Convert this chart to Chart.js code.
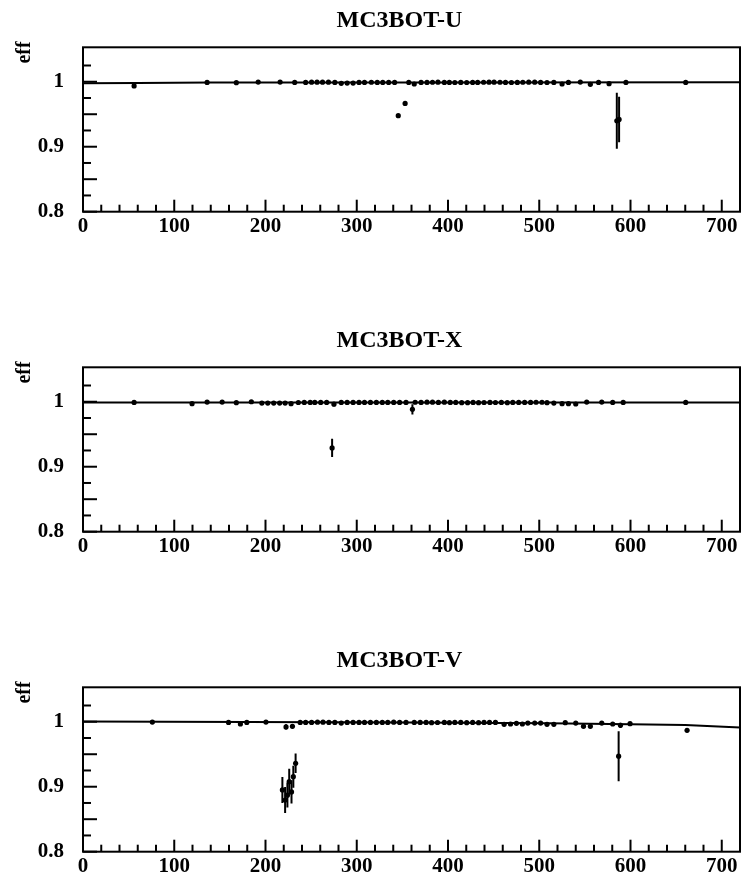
<!DOCTYPE html>
<html>
<head>
<meta charset="utf-8">
<script src="https://cdn.jsdelivr.net/npm/chart.js@4/dist/chart.umd.min.js"></script>
<style>
  html, body { margin: 0; padding: 0; background: #fff; }
  .panel { position: absolute; left: 0; width: 744px; height: 237px; }
</style>
</head>
<body>
<div class="panel" style="top:0px"><canvas id="cU" width="744" height="237"></canvas></div>
<div class="panel" style="top:320px"><canvas id="cX" width="744" height="237"></canvas></div>
<div class="panel" style="top:640px"><canvas id="cV" width="744" height="237"></canvas></div>
<script>
// Axis ticks and labels
const xTickValues = [0, 100, 200, 300, 400, 500, 600, 700];
const xTickLabels = ['0', '100', '200', '300', '400', '500', '600', '700'];
const yTickValues = [0.8, 0.9, 1.0];
const yTickLabels = ['0.8', '0.9', '1'];
const yAxisTitle = 'eff';

// MC3BOT-U: efficiency per position
const uPos = [56, 136, 168, 192, 216, 232, 244, 250.5, 256.5, 262.5,
  269, 276, 283, 289.5, 296, 302.5, 308.5, 316, 322.5, 328.5,
  335, 341.5, 345.5, 353, 357, 363, 370.5, 377, 383, 389,
  396, 401.5, 407.5, 414, 420.5, 427, 432.5, 439, 445, 450.5,
  457, 463, 469.5, 476, 482, 488.5, 495, 501.5, 508.5, 516,
  525, 532, 545, 556, 565, 576.5, 585, 587.5, 595, 660.5];
const uEff = [0.9935, 0.999, 0.9985, 0.9995, 0.9995, 0.999, 0.999, 0.9993, 0.9993, 0.9993,
  0.9993, 0.999, 0.9975, 0.998, 0.998, 0.999, 0.999, 0.9992, 0.999, 0.999,
  0.999, 0.999, 0.9477, 0.9667, 0.999, 0.9965, 0.999, 0.999, 0.9992, 0.9993,
  0.999, 0.999, 0.9988, 0.999, 0.9988, 0.999, 0.999, 0.9992, 0.9993, 0.9993,
  0.9992, 0.999, 0.9988, 0.999, 0.9992, 0.9993, 0.9993, 0.999, 0.9988, 0.999,
  0.9965, 0.999, 0.9995, 0.996, 0.999, 0.997, 0.940, 0.942, 0.999, 0.999];
const uErr = [0.003, 0, 0, 0, 0, 0, 0, 0, 0, 0,
  0, 0, 0, 0, 0, 0, 0, 0, 0, 0,
  0, 0, 0.002, 0.003, 0, 0, 0, 0, 0, 0,
  0, 0, 0, 0, 0, 0, 0, 0, 0, 0,
  0, 0, 0, 0, 0, 0, 0, 0, 0, 0,
  0, 0, 0, 0.0015, 0, 0, 0.043, 0.035, 0, 0];
const uFitX = [0, 60, 140, 400, 720];
const uFitY = [0.9975, 0.998, 0.999, 0.999, 0.9994];

// MC3BOT-X: efficiency per position
const xPos = [56, 119.5, 136, 152.5, 168, 184.5, 196, 202.5, 209, 215.5,
  221.5, 228, 236, 242.5, 249, 254, 260.5, 267, 273, 275,
  283, 289.5, 296, 302.5, 308.5, 315, 321.5, 328, 334, 340.5,
  347, 354, 361, 364, 370.5, 377, 383, 389.5, 396, 402.5,
  408.5, 415, 421.5, 427.5, 433.5, 439.5, 446, 452, 458.5, 465,
  471, 477.5, 484, 490.5, 496.5, 503, 508.5, 516, 525, 532,
  540, 552, 568.5, 580.5, 592, 660.5];
const xEff = [0.999, 0.997, 0.9995, 0.9995, 0.9985, 1.0, 0.998, 0.998, 0.998, 0.998,
  0.998, 0.997, 0.9988, 0.999, 0.999, 0.999, 0.999, 0.999, 0.929, 0.9962,
  0.999, 0.999, 0.999, 0.999, 0.999, 0.999, 0.999, 0.999, 0.999, 0.999,
  0.999, 0.999, 0.9883, 0.9992, 0.999, 0.9993, 0.9993, 0.999, 0.9993, 0.999,
  0.999, 0.9985, 0.9985, 0.999, 0.9985, 0.9988, 0.999, 0.9988, 0.999, 0.9985,
  0.999, 0.999, 0.999, 0.999, 0.9992, 0.9992, 0.9985, 0.998, 0.997, 0.997,
  0.9965, 0.9995, 0.9995, 0.999, 0.999, 0.999];
const xErr = [0, 0, 0, 0, 0, 0, 0, 0, 0, 0,
  0, 0, 0, 0, 0, 0, 0, 0, 0.014, 0.003,
  0, 0, 0, 0, 0, 0, 0, 0, 0, 0,
  0, 0, 0.008, 0, 0, 0, 0, 0, 0, 0,
  0, 0, 0, 0, 0, 0, 0, 0, 0, 0,
  0, 0, 0, 0, 0, 0, 0, 0, 0, 0,
  0, 0, 0, 0, 0, 0];
const xFitX = [0, 720];
const xFitY = [0.999, 0.999];

// MC3BOT-V: efficiency per position
const vPos = [76, 159.5, 172.5, 179.5, 200.5, 218.5, 221.5, 222.5, 224, 226,
  228.5, 229.5, 230.5, 233, 238, 244, 250.5, 257, 263, 269.5,
  276, 283, 289.5, 296, 302.5, 308.5, 315, 321.5, 328, 334,
  340.5, 347, 354, 363, 369.5, 376, 382, 388.5, 396, 401.5,
  407.5, 414, 420.5, 427, 433.5, 439.5, 445.5, 452, 461.5, 468.5,
  475, 481.5, 487.5, 495, 501.5, 508.5, 516, 528.5, 540, 548.5,
  556, 568.5, 580.5, 587, 589, 599.5, 662];
const vEff = [0.9995, 0.999, 0.9965, 0.999, 0.9995, 0.895, 0.8795, 0.992, 0.887, 0.9077,
  0.892, 0.993, 0.9154, 0.936, 0.999, 0.999, 0.999, 0.9993, 0.9993, 0.999,
  0.999, 0.998, 0.999, 0.999, 0.999, 0.999, 0.999, 0.999, 0.999, 0.999,
  0.9993, 0.999, 0.999, 0.999, 0.999, 0.999, 0.9985, 0.9988, 0.999, 0.9985,
  0.999, 0.999, 0.9985, 0.999, 0.9985, 0.999, 0.999, 0.999, 0.996, 0.9965,
  0.9975, 0.9965, 0.998, 0.998, 0.998, 0.996, 0.996, 0.9985, 0.998, 0.993,
  0.993, 0.998, 0.9965, 0.947, 0.9945, 0.997, 0.9868];
const vErr = [0, 0, 0, 0, 0, 0.02, 0.02, 0.004, 0.019, 0.02,
  0.018, 0.003, 0.017, 0.015, 0, 0, 0, 0, 0, 0,
  0, 0, 0, 0, 0, 0, 0, 0, 0, 0,
  0, 0, 0, 0, 0, 0, 0, 0, 0, 0,
  0, 0, 0, 0, 0, 0, 0, 0, 0, 0,
  0, 0, 0, 0, 0, 0, 0, 0, 0, 0.002,
  0.002, 0, 0, 0.0385, 0.004, 0, 0.003];
const vFitX = [0, 360, 510, 600, 660, 720];
const vFitY = [1.0005, 0.9988, 0.9977, 0.9963, 0.9948, 0.991];

const SERIF = "'Liberation Serif', 'Times New Roman', serif";

// Vertical error bars drawn through the value scale
const errorBarPlugin = {
  id: 'errorBars',
  afterDatasetsDraw(chart) {
    const ctx = chart.ctx, xs = chart.scales.x, ys = chart.scales.y, area = chart.chartArea;
    ctx.save();
    ctx.beginPath();
    ctx.rect(area.left, area.top, area.right - area.left, area.bottom - area.top);
    ctx.clip();
    ctx.strokeStyle = '#000';
    ctx.lineWidth = 2;
    chart.data.datasets.forEach(ds => {
      if (!ds.errors) return;
      ds.data.forEach((p, i) => {
        const e = ds.errors[i];
        if (!e) return;
        const px = xs.getPixelForValue(p.x);
        ctx.beginPath();
        ctx.moveTo(px, ys.getPixelForValue(p.y - e));
        ctx.lineTo(px, ys.getPixelForValue(p.y + e));
        ctx.stroke();
      });
    });
    ctx.restore();
  }
};

// Box frame with inward tick marks, panel title and axis title
const framePlugin = {
  id: 'frame',
  afterDraw(chart, args, opts) {
    const ctx = chart.ctx, xs = chart.scales.x, ys = chart.scales.y, a = chart.chartArea;
    ctx.save();
    ctx.strokeStyle = '#000';
    ctx.lineWidth = 2;
    ctx.strokeRect(a.left, a.top, a.right - a.left, a.bottom - a.top);
    // y ticks every 0.025, longer every 0.05
    for (let k = 0; k <= 9; k++) {
      const v = 0.8 + k * 0.025;
      const py = ys.getPixelForValue(v);
      const len = (k % 2 === 0) ? 14 : 8;
      ctx.beginPath();
      ctx.moveTo(a.left, py);
      ctx.lineTo(a.left + len, py);
      ctx.stroke();
    }
    // x ticks every 20, longer every 100
    for (let k = 0; k <= 35; k++) {
      const v = k * 20;
      const px = xs.getPixelForValue(v);
      const len = (v % 100 === 0) ? 12 : 7;
      ctx.beginPath();
      ctx.moveTo(px, a.bottom);
      ctx.lineTo(px, a.bottom - len);
      ctx.stroke();
    }
    ctx.fillStyle = '#000';
    // panel title
    ctx.font = 'bold 24px ' + SERIF;
    ctx.textAlign = 'center';
    ctx.textBaseline = 'alphabetic';
    ctx.fillText(opts.text, 399.5, 27);
    // axis title, rotated, at the top of the axis
    ctx.font = 'bold 20px ' + SERIF;
    ctx.translate(30, 52.5);
    ctx.rotate(-Math.PI / 2);
    ctx.textAlign = 'center';
    ctx.fillText(yAxisTitle, 0, 0);
    ctx.restore();
  }
};

function makePanel(id, title, pos, eff, err, fitX, fitY) {
  const tickFont = { family: SERIF, weight: 'bold', size: 21 };
  return new Chart(document.getElementById(id), {
    type: 'scatter',
    data: {
      datasets: [
        {
          type: 'line',
          data: fitX.map((x, i) => ({ x: x, y: fitY[i] })),
          borderColor: '#000',
          borderWidth: 2,
          pointRadius: 0,
          tension: 0,
          fill: false
        },
        {
          data: pos.map((x, i) => ({ x: x, y: eff[i] })),
          errors: err,
          backgroundColor: '#000',
          borderWidth: 0,
          pointRadius: 2.6,
          showLine: false
        }
      ]
    },
    options: {
      responsive: false,
      animation: false,
      devicePixelRatio: 1,
      events: [],
      layout: { padding: { top: 47.3, left: 0, right: 1, bottom: 0 } },
      plugins: {
        legend: { display: false },
        tooltip: { enabled: false },
        title: { display: false },
        frame: { text: title }
      },
      scales: {
        x: {
          type: 'linear',
          min: 0,
          max: 720,
          grid: { display: false },
          border: { display: false },
          ticks: {
            autoSkip: false,
            maxRotation: 0,
            padding: -6,
            color: '#000',
            font: tickFont,
            callback: (v, i) => xTickLabels[i]
          },
          afterBuildTicks: s => { s.ticks = xTickValues.map(v => ({ value: v })); },
          afterFit: s => { s.height = 25.3; }
        },
        y: {
          type: 'linear',
          min: 0.8,
          max: 1.053,
          // invisible tick marks set the gap between labels and frame
          grid: { display: true, drawOnChartArea: false, drawTicks: true, tickLength: 19, color: 'rgba(0,0,0,0)' },
          border: { display: false },
          ticks: {
            padding: 0,
            color: '#000',
            font: tickFont,
            callback: (v, i) => yTickLabels[i]
          },
          afterBuildTicks: s => { s.ticks = yTickValues.map(v => ({ value: v })); },
          afterFit: s => { s.width = 83; }
        }
      }
    },
    plugins: [errorBarPlugin, framePlugin]
  });
}

makePanel('cU', 'MC3BOT-U', uPos, uEff, uErr, uFitX, uFitY);
makePanel('cX', 'MC3BOT-X', xPos, xEff, xErr, xFitX, xFitY);
makePanel('cV', 'MC3BOT-V', vPos, vEff, vErr, vFitX, vFitY);
</script>
</body>
</html>
